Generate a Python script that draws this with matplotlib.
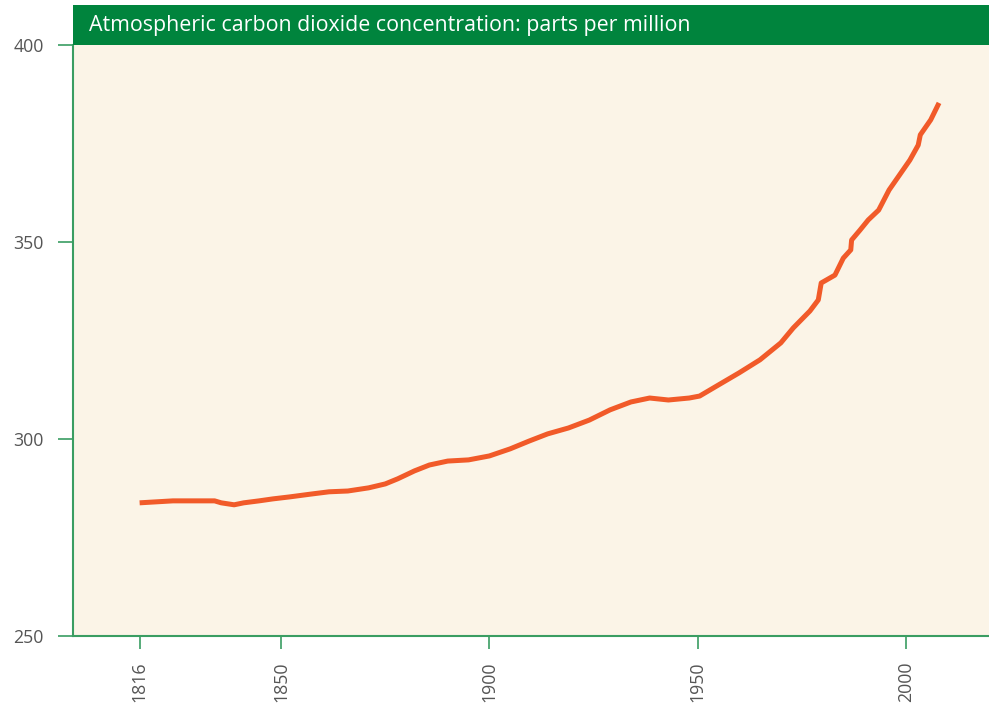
import matplotlib
matplotlib.use("Agg")
import matplotlib.pyplot as plt
from matplotlib.patches import Rectangle

years = [1816, 1824, 1834, 1835.6, 1838.7, 1841, 1844.7, 1848, 1852, 1857, 1861.5, 1866,
         1871, 1875, 1878, 1882, 1885.6, 1890, 1895, 1900, 1905, 1909.6, 1914, 1919, 1924,
         1929, 1934, 1938.5, 1943, 1948, 1950.5, 1955, 1960, 1965, 1970, 1973, 1977, 1979,
         1979.7, 1983, 1985, 1986.8, 1987, 1989, 1991, 1993.5, 1996, 1998.5, 2001, 2003,
         2003.5, 2006, 2008]
co2 = [283.8, 284.3, 284.3, 283.8, 283.3, 283.8, 284.3, 284.8, 285.3, 286.0, 286.6, 286.8,
       287.6, 288.6, 289.9, 291.9, 293.4, 294.4, 294.7, 295.7, 297.5, 299.5, 301.3, 302.8, 304.8,
       307.4, 309.4, 310.4, 309.9, 310.4, 310.9, 313.7, 316.8, 320.1, 324.4, 328.2, 332.5, 335.3,
       339.6, 341.6, 345.9, 348.0, 350.5, 353.0, 355.6, 358.1, 363.2, 367.0, 370.8, 374.6,
       377.2, 381.0, 385.3]

xticks = [1816, 1850, 1900, 1950, 2000]
yticks = [250, 300, 350, 400]
title = "Atmospheric carbon dioxide concentration: parts per million"

GREEN = "#00843D"
SPINE = "#3A9D62"
CREAM = "#FBF4E7"
ORANGE = "#F15A29"
TXT = "#555555"

plt.rcParams['font.family'] = ['Open Sans', 'DejaVu Sans']

fig = plt.figure(figsize=(9.89, 7.08), dpi=100)
ax = fig.add_axes([73/989, 1-636/708, 1-73/989, (636-45)/708])
ax.set_facecolor(CREAM)
ax.plot(years, co2, color=ORANGE, lw=3.6, solid_capstyle='butt')
ax.set_xlim(1800, 2020)
ax.set_ylim(250, 400)
ax.set_xticks(xticks)
ax.set_xticklabels([str(t) for t in xticks], rotation=90, fontsize=12.8, color=TXT)
ax.set_yticks(yticks)
ax.set_yticklabels([str(t) for t in yticks], fontsize=12.8, color=TXT)
for s in ['top', 'right']:
    ax.spines[s].set_visible(False)
for s in ['left', 'bottom']:
    ax.spines[s].set_color(SPINE)
    ax.spines[s].set_linewidth(1.5)
ax.tick_params(axis='y', direction='out', length=11, width=1.2, color=SPINE, pad=10)
ax.tick_params(axis='x', direction='out', length=9.5, width=1.2, color=SPINE, pad=9)

# header bar
fig.patches.append(Rectangle((73/989, 1-45/708), 1-73/989, 40/708, transform=fig.transFigure,
                             facecolor=GREEN, edgecolor='none', zorder=5))
fig.text(89/989, 1-25/708, title, color='white', fontsize=15.4, va='center', ha='left', zorder=6)

fig.savefig("out.png", dpi=100, facecolor='white')
